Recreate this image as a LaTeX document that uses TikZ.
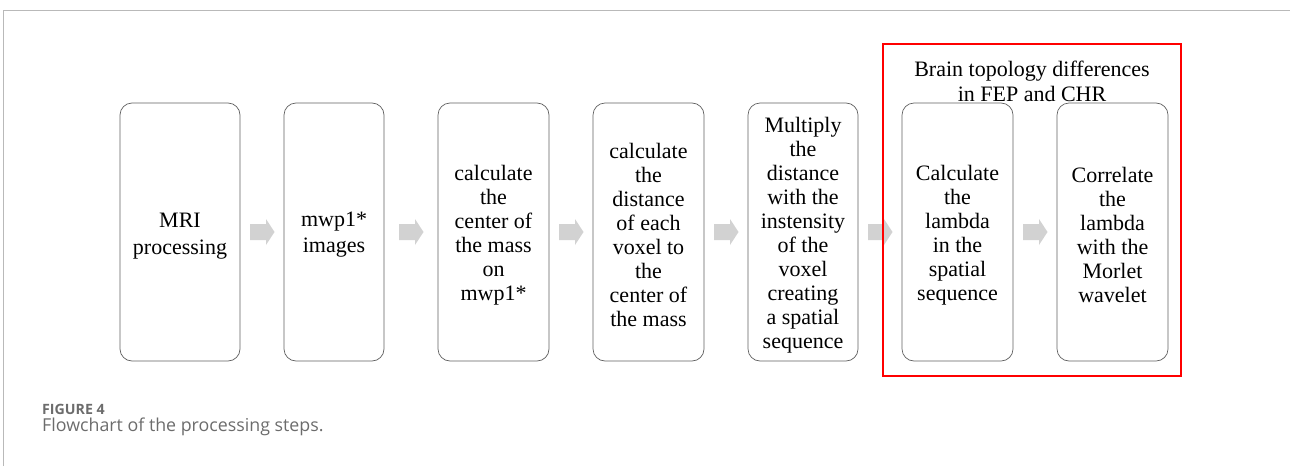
\documentclass[tikz,border=0pt]{standalone}
\usepackage{fontspec}
\setmainfont{Liberation Serif}
\newfontfamily\capfont{Open Sans}
\usetikzlibrary{calc}
\begin{document}
\begin{tikzpicture}[x=1pt,y=-1pt,
  stepbox/.style={draw=gray!75!black, line width=0.7pt, rounded corners=12pt,
    minimum height=258pt, inner sep=0pt},
  steptext/.style={align=center, inner sep=0pt, font=\fontsize{22}{24}\selectfont},
  arrowfill/.style={fill=gray!35, draw=none},
  framebox/.style={draw=red, line width=1.6pt},
  rule/.style={draw=gray!55, line width=1pt}]
\useasboundingbox (0,0) rectangle (1290,466);
\draw[rule] (3.5,466) -- (3.5,10.5) -- (1290,10.5);

\node[stepbox, minimum width=120pt] (b1) at (180,232) {};
\node[stepbox, minimum width=100pt] (b2) at (334,232) {};
\node[stepbox, minimum width=111pt] (b3) at (493.5,232) {};
\node[stepbox, minimum width=111pt] (b4) at (648.5,232) {};
\node[stepbox, minimum width=110pt] (b5) at (803,232) {};
\node[stepbox, minimum width=111pt] (b6) at (957.5,232) {};
\node[stepbox, minimum width=111pt] (b7) at (1112.5,232) {};

\node[steptext, font=\fontsize{22}{27}\selectfont] (t1) at ([yshift=-4pt]b1.center) {MRI\\processing};
\node[steptext, font=\fontsize{22}{26}\selectfont] (t2) at ([yshift=-3pt]b2.center) {mwp1*\\images};
\node[steptext] (t3) at ([yshift=-3pt]b3.center) {calculate\\the\\center of\\the mass\\on\\mwp1*};
\node[steptext] (t4) at ([yshift=-3pt]b4.center) {calculate\\the\\distance\\of each\\voxel to\\the\\center of\\the mass};
\node[steptext] (t5) at ([yshift=-3pt]b5.center) {Multiply\\the\\distance\\with the\\instensity\\of the\\voxel\\creating\\a spatial\\sequence};
\node[steptext] (t6) at ([yshift=-3pt]b6.center) {Calculate\\the\\lambda\\in the\\spatial\\sequence};
\node[steptext] (t7) at ([yshift=-3pt]b7.center) {Correlate\\the\\lambda\\with the\\Morlet\\wavelet};

\foreach \a/\b in {b1/b2,b2/b3,b3/b4,b4/b5,b5/b6,b6/b7}{
  \coordinate (m-\a) at ($(\a.east)!0.5!(\b.west)$);
  \begin{scope}[shift={(m-\a)}]
    \fill[arrowfill] (-12,-8) -- (4,-8) -- (4,-13) -- (12.5,0) -- (4,13) -- (4,8) -- (-12,8) -- cycle;
  \end{scope}
}

\node[framebox, minimum width=298pt, minimum height=332pt, inner sep=0pt] (grp) at (1032,210) {};
\node[align=center, inner sep=0pt, font=\fontsize{22}{25}\selectfont] (title) at (1032,81.5) {Brain topology differences\\in FEP and CHR};

\node[anchor=base west, inner sep=0pt, text=gray!85!black, font=\capfont\bfseries\fontsize{14.2}{16}\selectfont] (fig) at (42,414) {FIGURE 4};
\node[anchor=base west, inner sep=0pt, text=gray!85!black, font=\capfont\fontsize{17.8}{20}\selectfont] (cap) at (42,431) {Flowchart of the processing steps.};
\end{tikzpicture}
\end{document}
